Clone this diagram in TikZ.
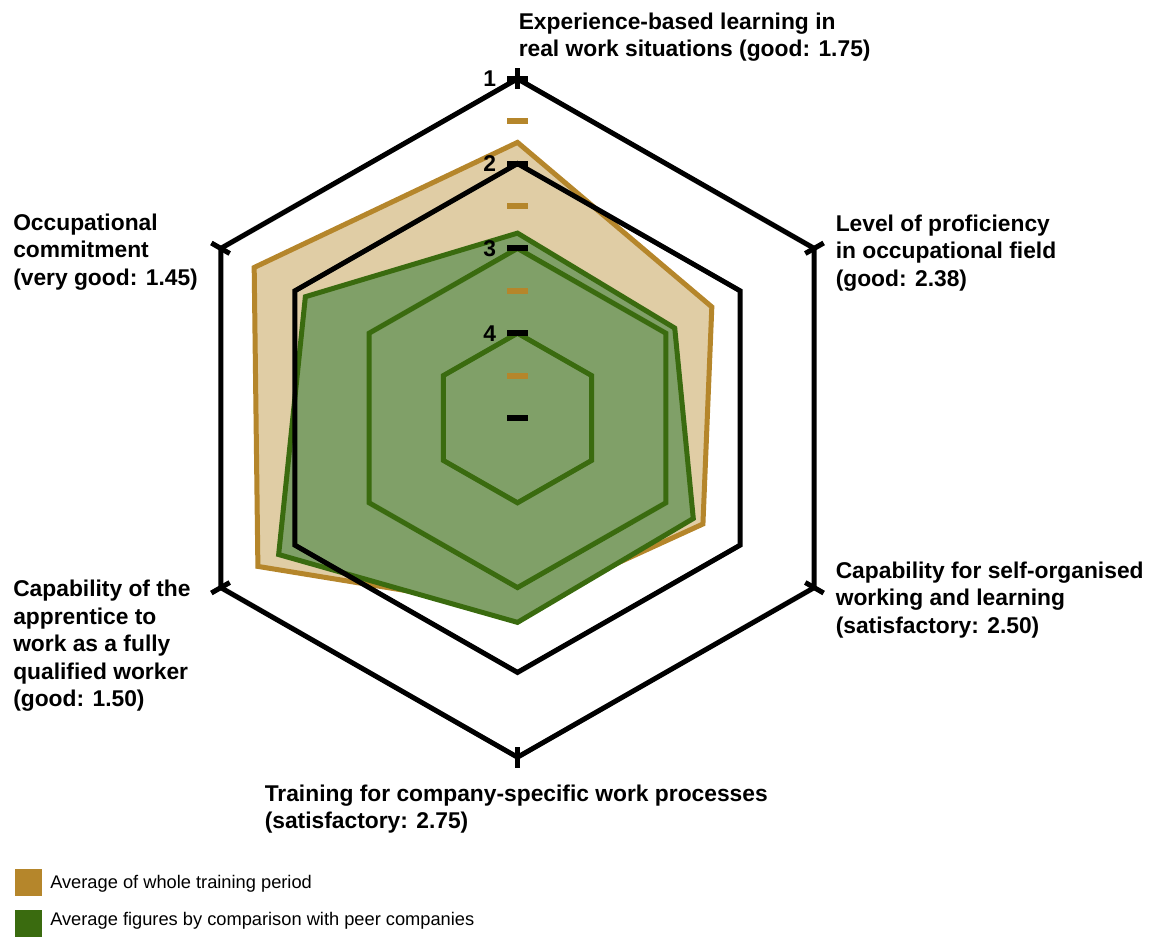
\documentclass[tikz,border=0pt]{standalone}
\usepackage{fontspec}
\setmainfont{Liberation Sans}
\definecolor{goldline}{HTML}{B5862B}
\definecolor{goldfill}{HTML}{E0CDA5}
\definecolor{greenline}{HTML}{3A6B0F}
\definecolor{greenfill}{HTML}{80A068}

\begin{document}
\begin{tikzpicture}[x=0.75pt,y=0.75pt,
    axislabel/.style={font=\fontsize{17.1}{20.6}\selectfont\bfseries,align=left,inner sep=0pt,anchor=north west},
    scalelabel/.style={font=\fontsize{17.1}{20.6}\selectfont\bfseries,inner sep=0pt,anchor=east},
    legendtext/.style={font=\fontsize{13.7}{16}\selectfont,inner sep=0pt,anchor=base west},
    legendbox/.style={inner sep=0pt,minimum size=20.25pt,anchor=north west},
    thick line/.style={line width=3.75pt},
    tickmark/.style={line width=4.5pt}]
            \useasboundingbox (-517.5,-518) rectangle (634.5,418);
            \begin{scope}[xscale=1.01]
            \filldraw[fill=goldfill,draw=goldline,thick line] (90:{(5-1.75)*84.8}) -- (30:{(5-2.38)*84.8}) -- (-30:{(5-2.50)*84.8}) -- (-90:{(5-2.75)*84.8}) -- (-150:{(5-1.50)*84.8}) -- (150:{(5-1.45)*84.8}) -- cycle;
            \filldraw[fill=greenfill,draw=greenline,thick line] (90:{(5-2.82)*84.8}) -- (30:{(5-2.88)*84.8}) -- (-30:{(5-2.63)*84.8}) -- (-90:{(5-2.59)*84.8}) -- (-150:{(5-1.78)*84.8}) -- (150:{(5-2.14)*84.8}) -- cycle;
            \foreach \v/\c in {3/greenline,4/greenline,1/black,2/black}
                \draw[\c,thick line] (90:{(5-\v)*84.8}) -- (30:{(5-\v)*84.8}) -- (-30:{(5-\v)*84.8}) -- (-90:{(5-\v)*84.8}) -- (-150:{(5-\v)*84.8}) -- (150:{(5-\v)*84.8}) -- cycle;
            \foreach \a in {90,30,-30,-90,-150,150}
                \draw[thick line] (\a:329) -- (\a:350);
            \foreach \v in {1,2,3,4,5}
                \draw[tickmark] (-10,{(5-\v)*84.8}) -- (10,{(5-\v)*84.8});
            \foreach \v in {1.5,2.5,3.5,4.5}
                \draw[tickmark,goldline] (-10,{(5-\v)*84.8}) -- (10,{(5-\v)*84.8});
            \foreach \v in {1,2,3,4}
                \node[scalelabel] (scale\v) at (-21,{(5-\v)*84.8}) {\v};
            \end{scope}
            \node[axislabel] (lblexp) at (1,405.5) {Experience-based learning in\\real work situations (good: 1.75)};
            \node[axislabel] (lbllevel) at (318,203.5) {Level of proficiency\\in occupational field\\(good: 2.38)};
            \node[axislabel] (lblself) at (318,-143.5) {Capability for self-organised\\working and learning\\(satisfactory: 2.50)};
            \node[axislabel] (lbltrain) at (-253,-366.5) {Training for company-specific work processes\\(satisfactory: 2.75)};
            \node[axislabel] (lblworker) at (-504.5,-162) {Capability of the\\apprentice to\\work as a fully\\qualified worker\\(good: 1.50)};
            \node[axislabel] (lblcommit) at (-504.5,204.5) {Occupational\\commitment\\(very good: 1.45)};
            \node[legendbox,fill=goldline] (keygold) at (-502.5,-451) {};
            \node[legendbox,fill=greenline] (keygreen) at (-502.5,-492) {};
            \node[legendtext] (txtgold) at (-467.5,-470) {Average of whole training period};
            \node[legendtext] (txtgreen) at (-467.5,-507) {Average figures by comparison with peer companies};
        \end{tikzpicture}
\end{document}
